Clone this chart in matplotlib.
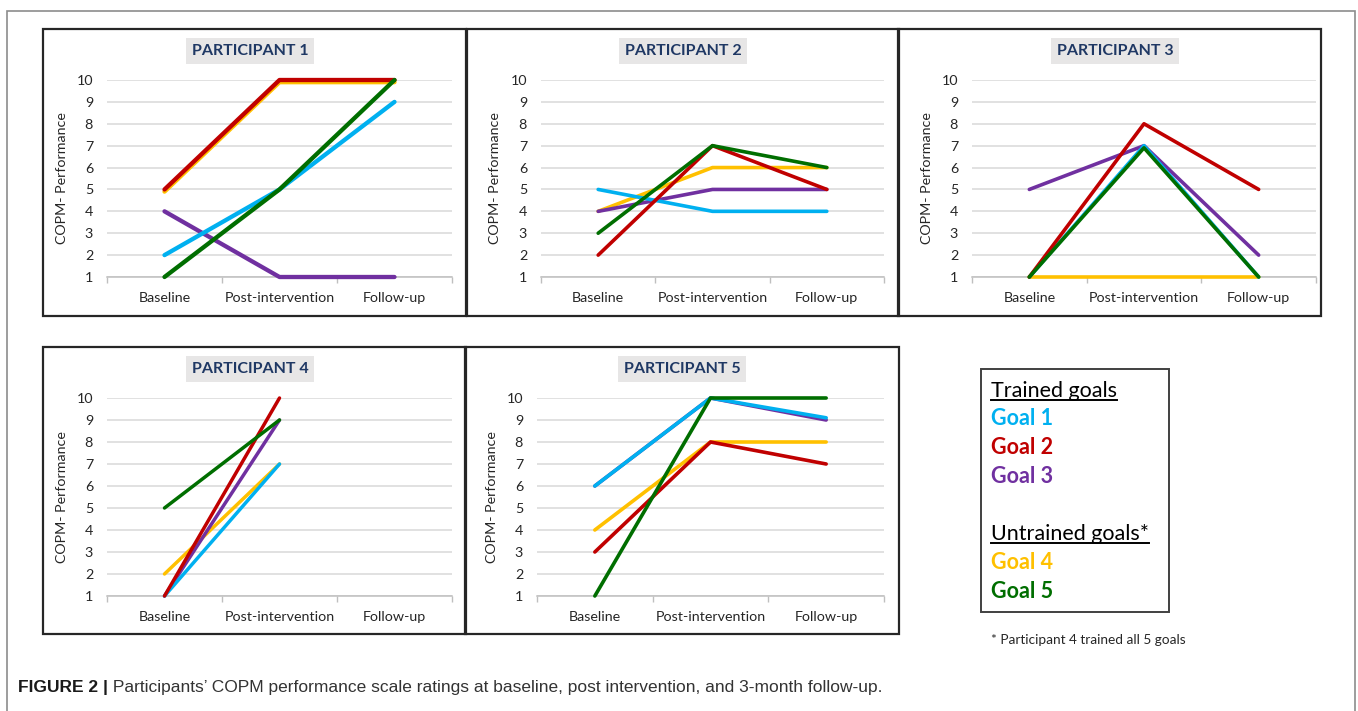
"""COPM performance ratings per participant (5 small-multiple line panels)."""
import matplotlib
matplotlib.use("Agg")
import matplotlib.pyplot as plt
from matplotlib.patches import Rectangle
from matplotlib.lines import Line2D
import numpy as np

W, H, DPI = 1358, 711, 100

CATEGORIES = ["Baseline", "Post-intervention", "Follow-up"]
GOALS = ["Goal 1", "Goal 2", "Goal 3", "Goal 4", "Goal 5"]
GOAL_COLORS = ["#00B0F0", "#C00000", "#7030A0", "#FFC000", "#006E00"]

# ratings per goal: baseline, post-intervention, follow-up
P1 = [[2, 5, 9], [5, 10, 10], [4, 1, 1], [4.9, 9.9, 9.9], [1, 5, 10]]
P2 = [[5, 4, 4], [2, 7, 5], [4, 5, 5], [4, 6, 6], [3, 7, 6]]
P3 = [[1, 7, 1], [1, 8, 5], [5, 7, 2], [1, 1, 1], [1, 6.9, 1]]
P4 = [[1, 7, np.nan], [1, 10, np.nan], [1, 9, np.nan], [2, 7, np.nan], [5, 9, np.nan]]
P5 = [[6, 10, 9.1], [3, 8, 7], [6, 10, 9], [4, 8, 8], [1, 10, 10]]
TITLES = ["PARTICIPANT 1", "PARTICIPANT 2", "PARTICIPANT 3", "PARTICIPANT 4", "PARTICIPANT 5"]
PARTICIPANTS = [P1, P2, P3, P4, P5]

CAPTION_BOLD = "FIGURE 2 |"
CAPTION = (" Participants\u2019 COPM performance scale ratings at baseline, "
           "post intervention, and 3-month follow-up.")
FOOTNOTE = "* Participant 4 trained all 5 goals"

# ── layout (pixels, top-left origin) ────────────────────────────────────────
# frame box, plot area x0/x1, y of value 10 / value 1, title centre, ylabel x
PANELS = [
    dict(frame=(43, 29, 466, 316), plot=(107, 452, 80, 277), title=(250, 51), ylab=62, lw=3.1),
    dict(frame=(467, 29, 899, 316), plot=(541, 884, 80, 277), title=(683, 51), ylab=495, lw=2.6),
    dict(frame=(898, 29, 1321, 316), plot=(972, 1316, 80, 277), title=(1115, 51), ylab=927, lw=2.6),
    dict(frame=(43, 347, 466, 634), plot=(107, 452, 398, 596), title=(250, 369), ylab=62, lw=2.5),
    dict(frame=(465, 347, 899, 634), plot=(537, 884, 398, 596), title=(682, 369), ylab=492, lw=2.6),
]
DRAW_ORDER = [3, 2, 0, 1, 4]

plt.rcParams["font.family"] = ["Lato", "DejaVu Sans"]

fig = plt.figure(figsize=(W / DPI, H / DPI), dpi=DPI)


def fx(px):
    return px / W


def fy(py):
    return 1 - py / H


def frame(x0, y0, x1, y1, color, lw):
    fig.add_artist(Rectangle((fx(x0), fy(y1)), fx(x1 - x0), (y1 - y0) / H,
                             transform=fig.transFigure, fill=False,
                             edgecolor=color, linewidth=lw))


# outer grey frame
frame(7, 11, 1355, 730, "#8C8C8C", 1.2)

x = np.arange(len(CATEGORIES)) + 0.5
for data, title, p in zip(PARTICIPANTS, TITLES, PANELS):
    frame(*p["frame"], "#262626", 1.6)
    px0, px1, ptop, pbot = p["plot"]
    ax = fig.add_axes([fx(px0), fy(pbot), fx(px1 - px0), (pbot - ptop) / H])
    ax.patch.set_alpha(0)
    for i in DRAW_ORDER:
        ax.plot(x, data[i], color=GOAL_COLORS[i], lw=p["lw"], clip_on=False,
                solid_capstyle="round", solid_joinstyle="round", zorder=3)
    ax.set_xlim(0, 3)
    ax.set_ylim(1, 10)
    ax.set_yticks(range(1, 11))
    ax.set_xticks(x)
    ax.set_xticklabels(CATEGORIES, fontsize=10.3, color="#262626")
    ax.set_xticks([0, 1, 2, 3], minor=True)
    ax.tick_params(axis="x", which="major", length=0, pad=11)
    ax.tick_params(axis="x", which="minor", length=4, width=1.0, color="#BFBFBF")
    ax.tick_params(axis="y", length=0, pad=10, labelsize=10.3, labelcolor="#262626")
    ax.grid(axis="y", color="#D9D9D9", lw=1.1, zorder=0)
    ax.set_axisbelow(True)
    for s in ["top", "right", "left"]:
        ax.spines[s].set_visible(False)
    ax.spines["bottom"].set_color("#BFBFBF")
    ax.spines["bottom"].set_linewidth(1.1)

    fig.text(fx(p["ylab"]), fy((ptop + pbot) / 2), "COPM- Performance",
             rotation=90, ha="center", va="center", fontsize=10.3, color="#262626")
    tx, ty = p["title"]
    fig.text(fx(tx), fy(ty), title, ha="center", va="center", fontsize=11.5,
             fontweight="bold", color="#1F3864",
             bbox=dict(boxstyle="square,pad=0.35", facecolor="#E7E6E6", edgecolor="none"))

# ── legend box ──────────────────────────────────────────────────────────────
frame(981, 369, 1169, 612, "#404040", 1.4)
LEG_X = 991
headers = [("Trained goals", 397), ("Untrained goals*", 540)]
entries = [(0, 425), (1, 454), (2, 483), (3, 569), (4, 598)]
head_texts = []
for label, base in headers:
    head_texts.append(fig.text(fx(LEG_X), fy(base), label, ha="left", va="baseline",
                               fontsize=15.5, color="black"))
for i, base in entries:
    fig.text(fx(LEG_X), fy(base), GOALS[i], ha="left", va="baseline", fontsize=15.5,
             fontweight="bold", color=GOAL_COLORS[i])
fig.text(fx(LEG_X), fy(644), FOOTNOTE, ha="left", va="baseline", fontsize=9.8,
         color="#262626")

# caption
cap_b = fig.text(fx(18), fy(692), CAPTION_BOLD, ha="left", va="baseline", fontsize=12.5,
                 fontweight="bold", color="#1A1A1A", family=["Liberation Sans", "DejaVu Sans"])

fig.canvas.draw()
r = fig.canvas.get_renderer()
for t, (label, base) in zip(head_texts, headers):
    bb = t.get_window_extent(r)
    yl = fy(base + 3)
    fig.add_artist(Line2D([bb.x0 / W, bb.x1 / W], [yl, yl], transform=fig.transFigure,
                          color="black", lw=1.4))
bb = cap_b.get_window_extent(r)
fig.text(bb.x1 / W, fy(692), CAPTION, ha="left", va="baseline", fontsize=12.5,
         color="#333333", family=["Liberation Sans", "DejaVu Sans"])

fig.savefig("out.png", dpi=DPI)
